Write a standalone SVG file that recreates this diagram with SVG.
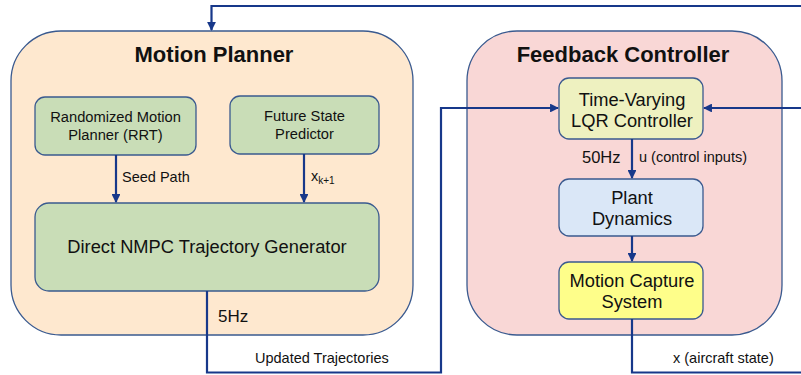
<svg xmlns="http://www.w3.org/2000/svg" width="801" height="375" viewBox="0 0 801 375">
<style>
.box{stroke:#3a5a8f;stroke-width:1.3}
.t{font-family:"Liberation Sans",Arial,sans-serif;fill:#111}
.title{font-size:22px;font-weight:bold;text-anchor:middle}
.n{font-size:14.7px;text-anchor:middle}
.m{font-size:18.3px;text-anchor:middle}
.l{font-size:14.5px}
.c{fill:none;stroke:#17388a;stroke-width:2.2}
</style>
<defs>
<marker id="a" viewBox="0 0 10 10" refX="9" refY="5" markerWidth="4" markerHeight="4" orient="auto" markerUnits="strokeWidth">
<path d="M0,0 L10,5 L0,10 Z" fill="#17388a"/>
</marker>
</defs>
<rect width="801" height="375" fill="#fff"/>
<g id="motion-planner">
<rect class="box" x="11" y="31" width="402" height="304" rx="50" fill="#fee8cf"/>
<text class="t title" x="214" y="62">Motion Planner</text>
</g>
<g id="feedback-controller">
<rect class="box" x="467" y="31" width="315" height="304" rx="50" fill="#f9d7d6"/>
<text class="t title" x="623" y="62">Feedback Controller</text>
</g>
<g id="rrt">
<rect class="box" x="35" y="97" width="161" height="58" rx="10" fill="#c9ddb7"/>
<text class="t n" x="115.5" y="122">Randomized Motion</text>
<text class="t n" x="115.5" y="140">Planner (RRT)</text>
</g>
<g id="predictor">
<rect class="box" x="230" y="96" width="149" height="58" rx="10" fill="#c9ddb7"/>
<text class="t n" x="304.5" y="121">Future State</text>
<text class="t n" x="304.5" y="139">Predictor</text>
</g>
<g id="nmpc">
<rect class="box" x="35" y="203" width="344" height="88" rx="14" fill="#c9ddb7"/>
<text class="t m" x="207" y="253">Direct NMPC Trajectory Generator</text>
</g>
<g id="lqr">
<rect class="box" x="559" y="78" width="144" height="61" rx="10" fill="#eef1c0"/>
<text class="t m" x="632" y="106">Time-Varying</text>
<text class="t m" x="632" y="127">LQR Controller</text>
</g>
<g id="plant">
<rect class="box" x="559" y="179" width="144" height="57" rx="10" fill="#dae7f7"/>
<text class="t m" x="632" y="204">Plant</text>
<text class="t m" x="632" y="225">Dynamics</text>
</g>
<g id="mocap">
<rect class="box" x="559" y="262" width="144" height="57" rx="10" fill="#fefe8a"/>
<text class="t m" x="632" y="287">Motion Capture</text>
<text class="t m" x="632" y="308">System</text>
</g>
<g id="connectors">
<path class="c" d="M116,155 V202" marker-end="url(#a)"/>
<path class="c" d="M304,154 V202" marker-end="url(#a)"/>
<path class="c" d="M207,291 V372.5 H441 V108 H558" marker-end="url(#a)"/>
<path class="c" d="M632,319 V372.5 H801"/>
<path class="c" d="M801,108 H704" marker-end="url(#a)"/>
<path class="c" d="M801,6 H211.5 V30" marker-end="url(#a)"/>
<path class="c" d="M632,139 V178" marker-end="url(#a)"/>
<path class="c" d="M632,236 V261" marker-end="url(#a)"/>
</g>
<g id="labels">
<text class="t l" x="122" y="182">Seed Path</text>
<text class="t l" x="311" y="181">x<tspan font-size="10" dy="3">k+1</tspan></text>
<text class="t" x="218" y="322" font-size="17">5Hz</text>
<text class="t l" x="255" y="363">Updated Trajectories</text>
<text class="t" x="582" y="163" font-size="16.5">50Hz</text>
<text class="t l" x="639" y="162">u (control inputs)</text>
<text class="t l" x="673" y="363">x (aircraft state)</text>
</g>
</svg>
